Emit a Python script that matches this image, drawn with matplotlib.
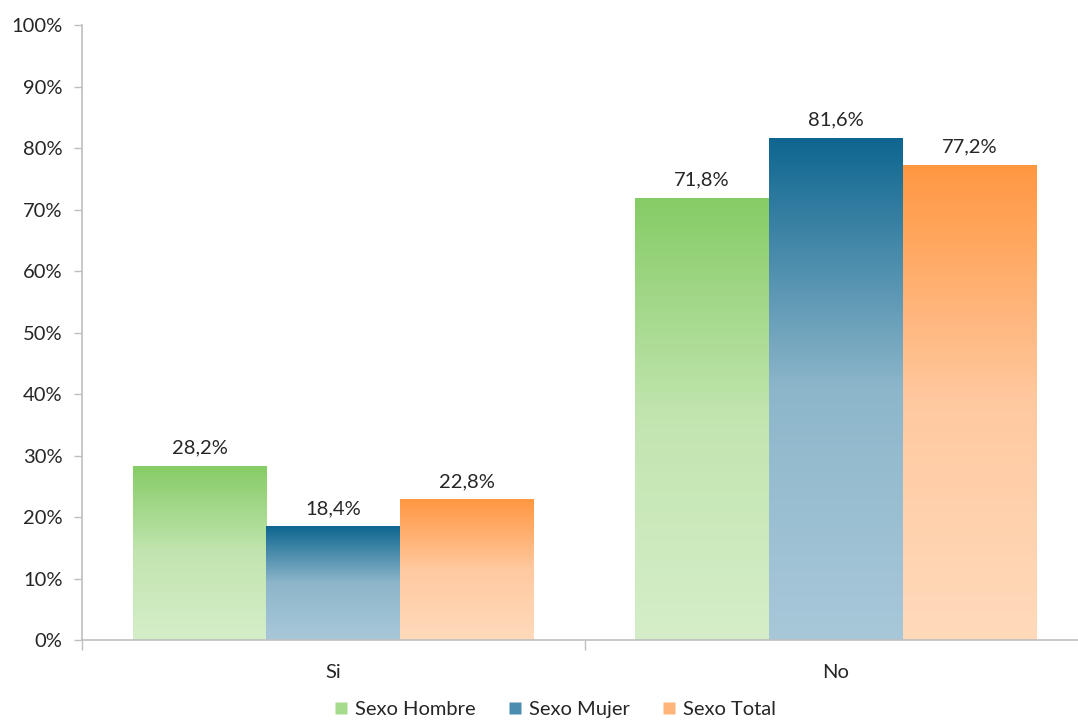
import numpy as np
import matplotlib
matplotlib.use("Agg")
import matplotlib.pyplot as plt
from matplotlib.colors import to_rgb
from matplotlib.lines import Line2D

categories = ["Si", "No"]
series = ["Sexo Hombre", "Sexo Mujer", "Sexo Total"]
hombre = [28.2, 71.8]
mujer = [18.4, 81.6]
total = [22.8, 77.2]
labels_hombre = ["28,2%", "71,8%"]
labels_mujer = ["18,4%", "81,6%"]
labels_total = ["22,8%", "77,2%"]
yticks = [0, 10, 20, 30, 40, 50, 60, 70, 80, 90, 100]
ytick_labels = ["0%", "10%", "20%", "30%", "40%", "50%", "60%", "70%", "80%", "90%", "100%"]

# gradient stops: (top, middle, bottom)
grad_colors = [
    ("#86CC66", "#C2E5B0", "#D5EEC9"),
    ("#0E6690", "#8DB6CA", "#A8C8D9"),
    ("#FF9741", "#FFC9A0", "#FFDABB"),
]
legend_colors = ["#A6DA8C", "#4A8DB0", "#FFB57A"]

plt.rcParams['font.family'] = ['Lato', 'DejaVu Sans']
text_color = "#262626"
axis_color = "#BFBFBF"
fs = 14.5

fig = plt.figure(figsize=(10.78, 7.2), dpi=100)
ax = fig.add_axes([82/1078, 80/720, (1087-82)/1078, (640-25)/720])

x = np.arange(len(categories))
width = 0.266
data = [hombre, mujer, total]
labs = [labels_hombre, labels_mujer, labels_total]

def gradient_img(cols, n=256):
    top, mid, bot = [np.array(to_rgb(c)) for c in cols]
    t = np.linspace(0, 1, n)  # 0 bottom -> 1 top
    img = np.zeros((n, 1, 3))
    for i, tv in enumerate(t):
        if tv < 0.5:
            f = tv / 0.5
            c = bot * (1 - f) + mid * f
        else:
            f = (tv - 0.5) / 0.5
            c = mid * (1 - f) + top * f
        img[i, 0] = c
    return img

for s, (vals, lab, cols) in enumerate(zip(data, labs, grad_colors)):
    offs = (s - 1) * width
    bars = ax.bar(x + offs, vals, width, color="none", edgecolor="none", zorder=2)
    img = gradient_img(cols)
    for b, v, l in zip(bars, vals, lab):
        x0 = b.get_x()
        ax.imshow(img, extent=[x0, x0 + width, 0, v], origin="lower",
                  aspect="auto", zorder=2, interpolation="bilinear")
        ax.text(x0 + width / 2, v + 1.6, l, ha="center", va="bottom",
                fontsize=fs, color=text_color)

ax.set_xlim(-0.5, 1.5)
ax.set_ylim(0, 100)
ax.set_yticks(yticks)
ax.set_yticklabels(ytick_labels, fontsize=fs, color=text_color)
ax.set_xticks(x)
ax.set_xticklabels(categories, fontsize=fs, color=text_color)
ax.set_xticks([-0.5, 0.5, 1.5], minor=True)
ax.tick_params(axis="x", which="major", length=0, pad=17)
ax.tick_params(axis="x", which="minor", length=7, color=axis_color, width=1)
ax.tick_params(axis="y", length=6, color=axis_color, width=1, pad=8)

for sp in ["top", "right"]:
    ax.spines[sp].set_visible(False)
ax.spines["left"].set_color(axis_color)
ax.spines["bottom"].set_color(axis_color)
ax.spines["left"].set_linewidth(1.2)
ax.spines["bottom"].set_linewidth(1.2)

handles = [Line2D([0], [0], marker="s", linestyle="none", markersize=9,
                  markerfacecolor=c, markeredgecolor="none") for c in legend_colors]
fig.legend(handles, series, loc="center", bbox_to_anchor=(555/1078, 1 - 709/720),
           ncol=3, frameon=False, fontsize=fs, handlelength=0.7,
           handletextpad=0.35, columnspacing=1.6, labelcolor=text_color)

fig.savefig("out.png", dpi=100)
